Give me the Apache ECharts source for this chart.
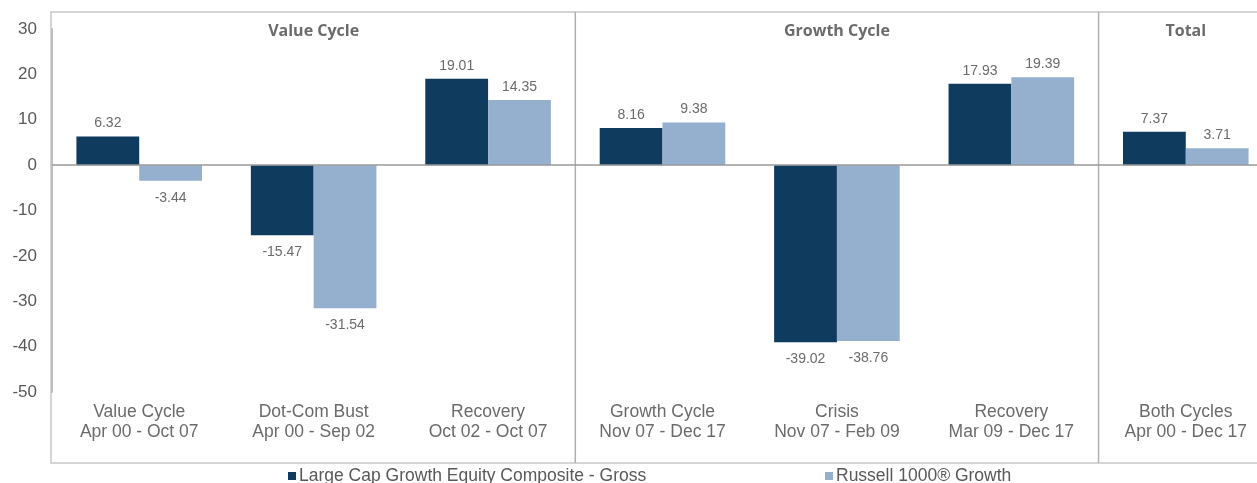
<!DOCTYPE html>
<html>
  <head>
    <meta charset="utf-8" />
    <title>Value vs Growth Cycle</title>
    <script src="https://cdn.jsdelivr.net/npm/echarts@6/dist/echarts.min.js"></script>
    <style>
      body { margin: 0; background: #fff; }
      #main { width: 1257px; height: 483px; }
    </style>
  </head>
  <body>
    <div id="main"></div>
    <script type="text/javascript">
      // data
      var categories = [
        "Value Cycle\nApr 00 - Oct 07",
        "Dot-Com Bust\nApr 00 - Sep 02",
        "Recovery\nOct 02 - Oct 07",
        "Growth Cycle\nNov 07 - Dec 17",
        "Crisis\nNov 07 - Feb 09",
        "Recovery\nMar 09 - Dec 17",
        "Both Cycles\nApr 00 - Dec 17",
      ];
      var composite = [6.32, -15.47, 19.01, 8.16, -39.02, 17.93, 7.37];
      var russell = [-3.44, -31.54, 14.35, 9.38, -38.76, 19.39, 3.71];
      var seriesNames = ["Large Cap Growth Equity Composite - Gross", "Russell 1000® Growth"];
      // group headers: [title, first category index, last category index]
      var groups = [
        ["Value Cycle", 0, 2],
        ["Growth Cycle", 3, 5],
        ["Total", 6, 6],
      ];

      var regular = "'Liberation Sans', Arial, sans-serif";

      function toItems(arr) {
        return arr.map(function (v) {
          return {
            value: v,
            label: v < 0 ? { position: "bottom", distance: 10 } : { position: "top", distance: 6 },
          };
        });
      }

      var chart = echarts.init(document.getElementById("main"));

      var legendText = { fontFamily: regular, fontSize: 17.5, color: "#595959", padding: [0, 0, 0, -2] };

      var option = {
        animation: false,
        grid: { left: 52, top: 29, width: 1221, height: 363, outerBoundsMode: "none" },
        legend: [
          {
            data: [seriesNames[0]],
            left: 288,
            top: 467,
            padding: 0,
            itemWidth: 8,
            itemHeight: 8,
            icon: "rect",
            textStyle: legendText,
          },
          {
            data: [seriesNames[1]],
            left: 825,
            top: 467,
            padding: 0,
            itemWidth: 8,
            itemHeight: 8,
            icon: "rect",
            textStyle: legendText,
          },
        ],
        xAxis: {
          type: "category",
          data: categories,
          axisLine: { show: false },
          axisTick: { show: false },
          axisLabel: {
            interval: 0,
            margin: 10,
            fontFamily: regular,
            fontSize: 17.5,
            lineHeight: 20,
            color: "#6b6b6b",
          },
        },
        yAxis: {
          type: "value",
          min: -50,
          max: 30,
          interval: 10,
          axisLine: { show: true, lineStyle: { color: "#bfbfbf", width: 2 } },
          axisTick: { show: false },
          splitLine: { show: false },
          axisLabel: { margin: 15, fontFamily: regular, fontSize: 17, color: "#595959" },
        },
        series: [
          {
            name: seriesNames[0],
            type: "bar",
            data: toItems(composite),
            barWidth: "36%",
            barGap: "0%",
            itemStyle: { color: "#0f3b5f" },
            label: { show: true, fontFamily: regular, fontSize: 14, color: "#6b6b6b" },
            markLine: {
              silent: true,
              symbol: "none",
              label: { show: false },
              lineStyle: { color: "#9a9a9a", width: 1.5, type: "solid" },
              data: [{ yAxis: 0 }],
            },
          },
          {
            name: seriesNames[1],
            type: "bar",
            data: toItems(russell),
            barWidth: "36%",
            itemStyle: { color: "#95b0cf" },
            label: { show: true, fontFamily: regular, fontSize: 14, color: "#6b6b6b" },
          },
        ],
      };

      chart.setOption(option);

      // frame, group separators and group titles, placed from the axis scale
      var step =
        chart.convertToPixel({ xAxisIndex: 0 }, categories[1]) -
        chart.convertToPixel({ xAxisIndex: 0 }, categories[0]);
      var graphics = [
        {
          type: "rect",
          shape: { x: 51, y: 12, width: 1300, height: 451 },
          style: { fill: "none", stroke: "#c8c8c8", lineWidth: 1.5 },
          silent: true,
        },
      ];
      groups.forEach(function (g, i) {
        var x0 = chart.convertToPixel({ xAxisIndex: 0 }, categories[g[1]]) - step / 2;
        var x1 = chart.convertToPixel({ xAxisIndex: 0 }, categories[g[2]]) + step / 2;
        if (i > 0) {
          graphics.push({
            type: "line",
            shape: { x1: x0, y1: 12, x2: x0, y2: 463 },
            style: { stroke: "#b0b0b0", lineWidth: 1.5 },
            silent: true,
          });
        }
        graphics.push({
          type: "text",
          x: (x0 + x1) / 2,
          y: 31,
          style: {
            text: g[0],
            align: "center",
            verticalAlign: "middle",
            font: "bold 16px 'Open Sans', 'Liberation Sans', sans-serif",
            fill: "#6b6b6b",
          },
          silent: true,
        });
      });
      chart.setOption({ graphic: graphics });
    </script>
  </body>
</html>
